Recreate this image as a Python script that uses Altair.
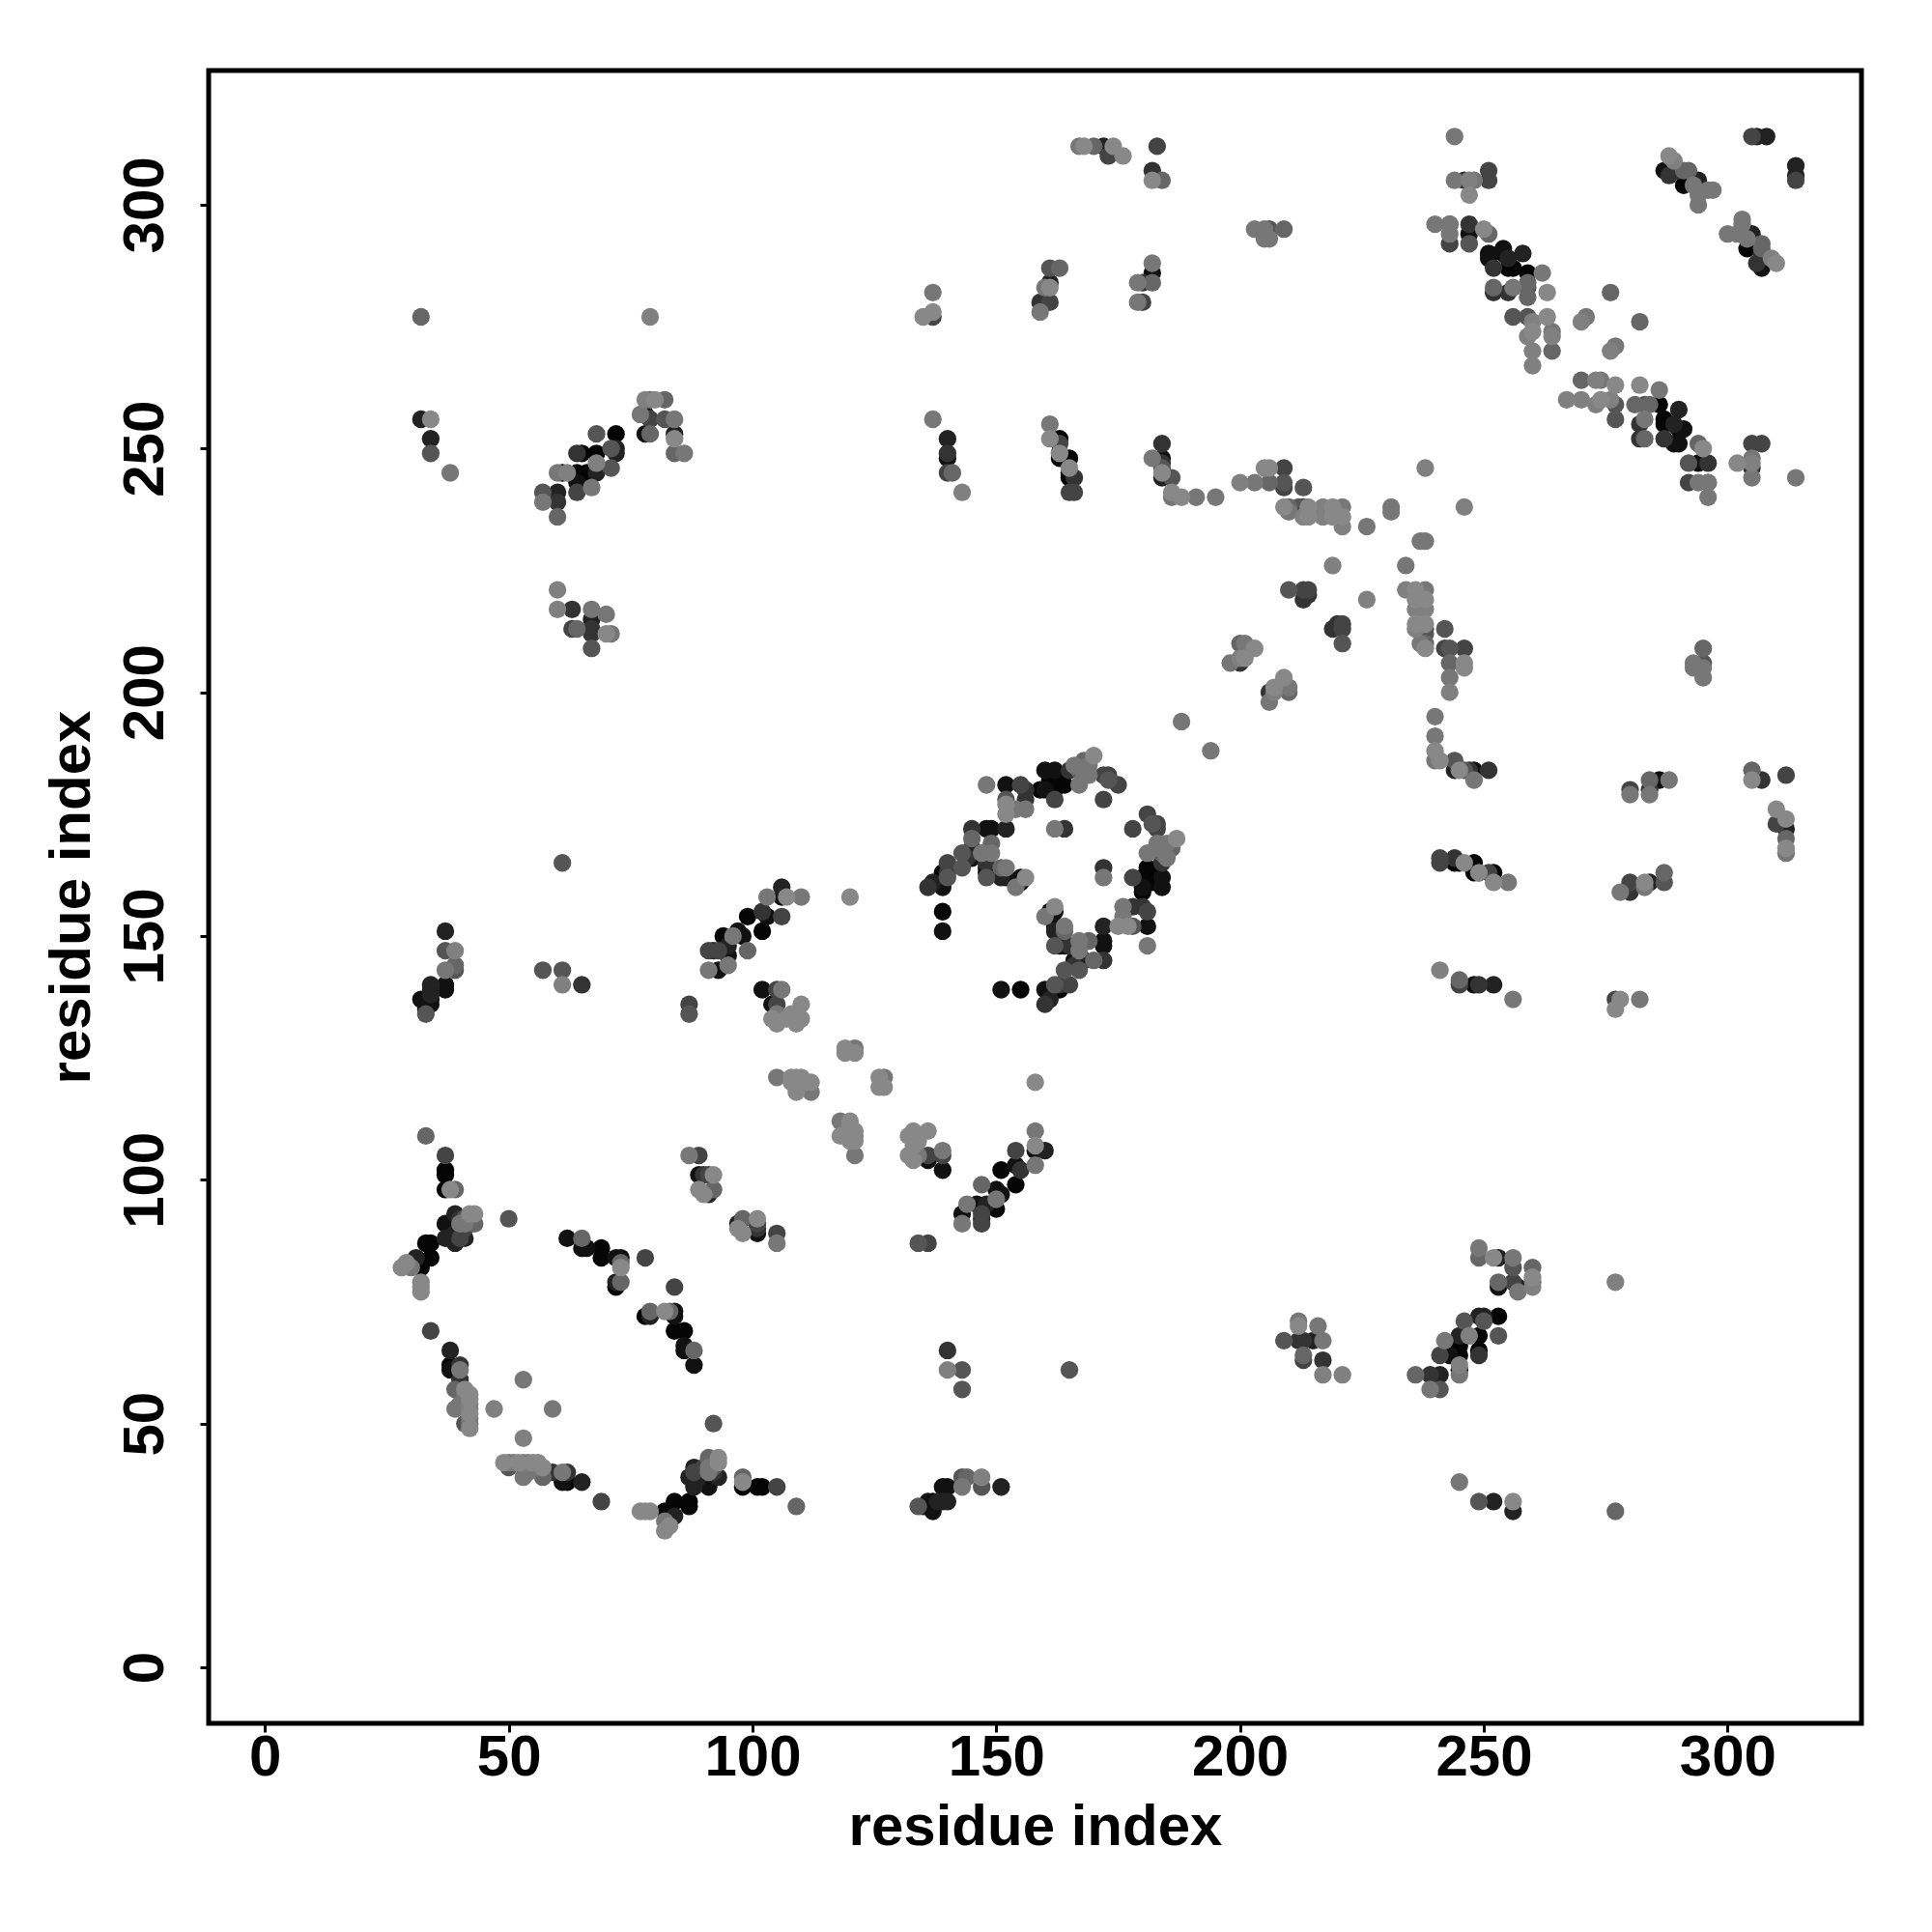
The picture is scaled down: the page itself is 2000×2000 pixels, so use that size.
import altair as alt
import pandas as pd

# gray levels of the contacts, darkest first
palette = ["#050505", "#111111", "#222222", "#333333", "#444444", "#555555",
           "#666666", "#777777", "#808080", "#888888"]

# contacts as (residue i, residue j, shade index), i < j; the map is symmetric
helix_a = [(37,105,4),(37,102,0),(37,101,0),(37,98,0),(38,98,9),(39,98,6),(39,93,2),(37,91,1),(40,92,3),(41,92,5),
           (42,93,9),(43,93,9),(40,91,7),(38,90,1),(41,90,4),(39,89,2),(37,88,2),(38,88,2),(40,88,4),(41,91,7),
           (33,87,0),(34,87,0),(34,84,0),(31,84,2),(32,82,0),(30,82,7),(28,82,9),(29,83,9),(32,79,9),(32,78,9),
           (50,92,5),(33,109,6)]
strand_b = [(62,88,1),(65,88,6),(65,86,1),(66,86,1),(69,86,0),(69,84,0),(72,84,1),(73,84,1),(78,84,4),(73,82,9),
            (73,83,6),(72,78,0),(72,79,2),(73,79,6)]
strand_c = [(34,69,4),(38,65,2),(38,62,0),(38,61,1),(40,62,3),(40,61,7),(40,59,3),(39,57,6),(41,57,9),(39,53,7),
            (40,54,7),(42,56,9),(42,55,9),(42,54,8),(42,53,8),(42,52,9),(42,51,7),(41,50,5),(42,50,7),(42,49,9),
            (41,56,7),(47,53,8),(53,59,7)]
strand_d = [(89,105,4),(87,105,7),(89,101,1),(90,101,3),(91,101,4),(92,101,9),(89,98,9),(91,97,2),(90,97,9),(92,98,6),
            (34,136,1)]
low_right = [(33,134,5),(33,135,1),(32,137,1),(34,137,0),(34,139,2),(34,138,2),(34,140,2),(37,139,1),(37,140,1),(37,151,2),
             (37,147,5),(39,147,8),(37,143,7),(39,144,6),(39,143,5),(57,143,5),(61,143,5),(61,140,8),(65,140,3),(61,165,5),
             (87,136,4),(87,134,5),
             (39,87,2),(41,88,2),
             (43,91,6),(32,77,9)]
pair_e = [(91,147,4),(93,147,4),(92,147,2),(94,150,0),(96,150,7),(91,143,7),(93,143,1),(95,146,1),(95,144,7),(95,148,2),
          (99,154,0),(98,150,1),(99,147,6),(102,151,0),(97,151,1),(102,155,3),(103,154,1),(106,154,4),(106,160,2),
          (103,158,7),(107,158,9),(110,158,7),(106,158,1),(120,158,9),(102,139,1),(106,139,7),(105,139,4),(104,136,1),
          (105,136,4),(104,133,9),(105,134,7),(105,132,9),(107,133,9),(109,133,9),(109,132,9),(110,133,9),(110,136,9),
          (108,134,9),(105,121,7),(108,121,9),(109,121,9),(110,121,9),(108,120,9),(111,120,9),(112,120,9),(109,119,9),
          (109,118,9),(112,118,7),(119,126,9),(119,127,9),(121,127,7),(121,126,9)]
loop_f = [(148,181,7),(152,181,1),(155,181,4),(156,180,3),(159,180,0),(156,178,3),(156,176,7),(152,177,9),(152,175,9),
          (152,178,5),(154,176,7),(161,182,0),(162,181,0),(164,181,0),(162,178,4),(160,184,1),(162,184,1),(166,185,7),
          (167,181,7),(167,184,6),(169,183,7),(170,187,9),(169,185,7),(172,183,4),(173,183,4),(173,182,5),(175,181,4),
          (172,178,4),(162,172,7),(164,172,3),(168,186,6),(168,183,7),(165,184,3),(163,183,0),(162,180,0),(160,180,1),
          (145,172,3),(148,172,1),(149,172,1),(152,172,2),(145,170,6),(149,169,6),(143,167,5),(145,167,1),(147,167,7),
          (149,167,7),(140,165,4),(143,164,5),(145,166,1),(148,165,3),(148,163,0),(148,162,5),(151,164,6),(151,162,2),
          (154,160,7),(155,162,1),(156,162,9),(139,163,0),(140,162,5),(139,160,1),(137,161,2),(136,160,3),(139,155,0),
          (139,151,1),(155,161,1),(152,162,1),(152,164,7),(148,164,1),(145,168,2),(144,166,3),(140,163,3),(139,161,1)]
far_g = [(137,282,7),(135,277,9),(137,278,9),(137,277,4),(161,287,5),(163,287,6),(161,283,9),(161,284,2),(159,280,3),
         (161,280,4),(159,278,7),(182,288,7),(182,286,1),(182,284,6),(180,284,3),(179,284,7),(180,280,4),(179,280,7),
         (137,256,7),(140,252,2),(140,249,3),(140,248,1),(140,245,4),(143,241,8),(161,255,7),(161,252,9),(163,252,0),
         (163,248,0),(165,248,0),(165,246,9),(165,244,0),(166,244,3),(165,241,4),(166,241,4),(184,251,3),(184,248,1),
         (182,248,7),(184,246,5),(184,244,2),(186,244,5),(186,241,9),(186,240,7),(188,240,9),(191,240,7),(195,240,7),
         (184,245,9),(184,247,3),(141,245,6),(160,283,7),(163,249,9),(163,251,4),(163,249,0),(165,245,0)]
top_h = [(167,312,7),(168,312,9),(170,312,6),(172,312,2),(174,312,9),(173,310,4),(176,310,9),(183,312,4),(182,307,3),
         (182,305,9),(184,305,6)]
middle_i = [(200,243,8),(203,243,7),(206,243,6),(205,246,9),(206,246,9),(209,246,4),(209,243,5),(209,242,4),(213,242,5),
            (209,238,9),(210,238,6),(210,237,7),(213,238,4),(214,238,9),(213,236,8),(217,238,8),(217,236,8),(219,238,9),
            (221,238,7),(221,236,9),(221,234,8),(226,234,7),(231,238,7),(231,237,7),(238,246,8),(219,226,8),(210,221,5),
            (213,221,4),(214,221,4),(213,219,3),(214,220,3),(219,236,9),(212,238,5),(214,236,9),(200,210,6),(201,210,7),
            (203,209,9),(200,207,8),(198,206,7),(200,206,3),(201,207,9),(188,194,7),(203,295,7),(205,293,7),(206,295,5),
            (206,293,7),(209,295,6),(205,295,7)]
upper_j = [(240,296,7),(243,296,4),(243,294,7),(247,296,3),(247,292,5),(247,294,1),(250,295,9),(251,294,6),(251,290,1),
           (254,291,1),(258,290,2),(251,289,1),(254,290,0),(252,287,3),(255,287,0),(259,286,0),(262,286,7),(259,284,6),
           (252,283,6),(256,283,7),(255,282,3),(259,283,5),(259,281,6),(263,282,9),(276,282,6),(252,282,3),(255,289,2),
           (256,287,0),(244,314,7),(244,305,7),(246,305,3),(247,305,8),(251,307,4),(251,305,4),(248,305,7),(247,302,9),
           (256,277,5),(259,277,5),(263,277,9),(260,276,8),(260,274,9),(264,274,7),(260,270,8),(264,270,6),(260,267,8),
           (271,277,7),(270,276,8),(264,273,8),(259,273,8),(243,292,4),(243,296,7)]
corner_k = [(287,307,1),(288,310,9),(289,309,8),(288,306,3),(290,307,3),(291,307,6),(291,304,0),(294,305,2),(294,300,7),
            (294,302,7),(296,303,7),(297,303,7),(292,307,6),(293,304,7),(305,314,4),(306,314,2),(308,314,2)]
arm_l = [(32,256,2),(34,256,9),(34,252,2),(34,249,5),(38,245,7),(32,277,6),(79,277,8),(57,241,5),(57,239,7),(60,241,2),
         (60,239,3),(60,236,6),(60,245,7),(61,245,0),(62,245,8),(64,241,4),(64,245,0),(64,243,1),(65,249,0),(64,249,3),
         (67,242,7),(68,253,5),(68,249,0),(68,247,8),(68,245,2),(66,245,0),(71,246,5),(72,253,0),(72,250,2),(72,249,2),
         (71,250,5),(78,260,8),(79,260,6),(80,260,9),(82,260,6),(77,257,7),(78,257,2),(79,256,4),(82,256,5),(84,256,7),
         (78,253,1),(79,253,6),(84,253,2),(84,252,9),(84,249,6),(86,249,7),(60,221,8),(60,217,8),(63,217,3),(67,217,7),
         (70,216,7),(64,213,6),(63,213,4),(67,213,3),(67,212,3),(70,212,9),(71,212,7),(67,209,5),(67,215,2)]

clusters = [helix_a, strand_b, strand_c, strand_d, low_right, pair_e, loop_f, far_g, top_h, middle_i, upper_j, corner_k, arm_l]

rows = []
for cluster in clusters:
    for i, j, s in cluster:
        rows.append({"x": i, "y": j, "s": s, "c": palette[s]})
        rows.append({"x": j, "y": i, "s": s, "c": palette[s]})
df = pd.DataFrame(rows).sort_values("s", kind="stable")

tick_values = [0, 50, 100, 150, 200, 250, 300]
FONT = "Liberation Sans"

def axis(**kw):
    return alt.Axis(values=tick_values, title="residue index", grid=False, domain=False, ticks=True,
                    tickSize=9, tickWidth=3, tickColor="black", labelFont=FONT, labelFontWeight="bold",
                    labelFontSize=60, labelColor="black", titleFont=FONT, titleFontWeight="bold",
                    titleFontSize=60, titleColor="black", labelOverlap=False, labelFlush=False, **kw)

chart = (
    alt.Chart(df)
    .mark_circle(size=335, opacity=1)
    .encode(
        x=alt.X("x:Q", scale=alt.Scale(domain=[-11.55, 327.47], nice=False, zero=False),
                axis=axis(labelPadding=-3, titlePadding=13)),
        y=alt.Y("y:Q", scale=alt.Scale(domain=[-11.49, 327.53], nice=False, zero=False),
                axis=axis(labelAngle=270, labelAlign="center", labelBaseline="bottom", labelPadding=26, titlePadding=15)),
        color=alt.Color("c:N", scale=None, legend=None),
    )
    .properties(
        width=1711, height=1711,
        autosize=alt.AutoSizeParams(type="none"),
        padding={"left": 208, "top": 65, "right": 60, "bottom": 190},
        background="white",
    )
    .configure_view(stroke="black", strokeWidth=5, fill="white")
)

chart.save("out.html", embed_options={"renderer": "svg", "actions": False})
